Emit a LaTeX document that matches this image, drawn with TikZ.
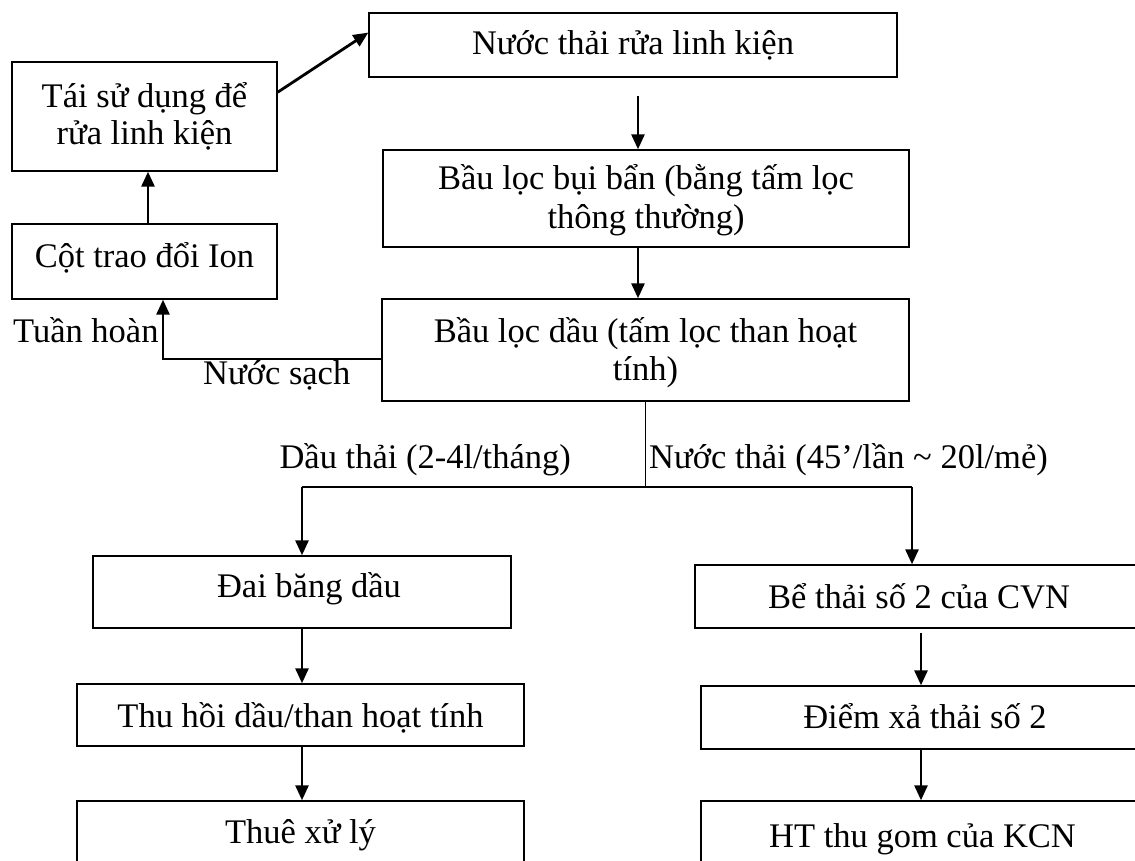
\documentclass[tikz,border=0pt]{standalone}
\usepackage{fontspec}
\setmainfont{Liberation Serif}
\usetikzlibrary{arrows.meta,calc}
\begin{document}
\begin{tikzpicture}[x=1pt,y=-1pt,
  font=\fontsize{34.5}{38}\selectfont,
  box/.style={draw,line width=1.4pt,rectangle,inner sep=0pt},
  txt/.style={anchor=base,inner sep=0pt},
  arr/.style={line width=2.8pt,-{Triangle[length=15pt,width=13pt]}},
  thick line/.style={line width=2.8pt},
  thin line/.style={line width=1.4pt}]
\path[use as bounding box] (0,0) rectangle (1135,861);
\clip (0,0) rectangle (1135,861);
\fill[white] (0,0) rectangle (1135,861);

% process boxes
\node[box,minimum width=528pt,minimum height=64pt]  (wash)    at (633,45) {};
\node[box,minimum width=265pt,minimum height=109pt] (reuse)   at (144.5,116.5) {};
\node[box,minimum width=265pt,minimum height=75pt]  (ion)     at (144.5,261.5) {};
\node[box,minimum width=526pt,minimum height=97pt]  (dust)    at (646,198.5) {};
\node[box,minimum width=527pt,minimum height=102pt] (oil)     at (645.5,350) {};
\node[box,minimum width=418pt,minimum height=72pt]  (belt)    at (302,592) {};
\node[box,minimum width=447pt,minimum height=62pt]  (recover) at (300.5,715) {};
\node[box,minimum width=447pt,minimum height=100pt] (hire)    at (300.5,851) {};
\node[box,minimum width=448pt,minimum height=63pt]  (tank)    at (919,596.5) {};
\node[box,minimum width=448pt,minimum height=63pt]  (outlet)  at (925,717.5) {};
\node[box,minimum width=443pt,minimum height=100pt] (sewer)   at (922.5,851) {};

% box texts
\node[txt] (t-wash)    at (633,55)    {Nước thải rửa linh kiện};
\node[txt] (t-reuse1)  at (144.5,108) {Tái sử dụng để};
\node[txt] (t-reuse2)  at (144.5,145) {rửa linh kiện};
\node[txt] (t-ion)     at (144.5,267) {Cột trao đổi Ion};
\node[txt] (t-dust1)   at (646,190)   {Bầu lọc bụi bẩn (bằng tấm lọc};
\node[txt] (t-dust2)   at (646,229)   {thông thường)};
\node[txt] (t-oil1)    at (645.5,342) {Bầu lọc dầu (tấm lọc than hoạt};
\node[txt] (t-oil2)    at (645.5,380) {tính)};
\node[txt] (t-belt)    at (309,597)   {Đai băng dầu};
\node[txt] (t-recover) at (300.5,727) {Thu hồi dầu/than hoạt tính};
\node[txt] (t-hire)    at (300.5,843) {Thuê xử lý};
\node[txt] (t-tank)    at (919,608)   {Bể thải số 2 của CVN};
\node[txt] (t-outlet)  at (925,728)   {Điểm xả thải số 2};
\node[txt] (t-sewer)   at (922.5,847) {HT thu gom của KCN};

% flow labels
\node[txt,anchor=base west] (l-loop)  at (13,342)  {Tuần hoàn};
\node[txt,anchor=base west] (l-clean) at (203,384) {Nước sạch};
\node[txt,anchor=base east] (l-oilw)  at (571,468) {Dầu thải (2-4l/tháng)};
\node[txt,anchor=base west] (l-water) at (649,468) {Nước thải (45’/lần \textasciitilde{} 20l/mẻ)};

% junction points
\coordinate (colC)   at (638,96);
\coordinate (colL)   at (148,0);
\coordinate (loopX)  at (163,359);
\coordinate (split)  at (645.5,487);
\coordinate (splitL) at (302,487);
\coordinate (splitR) at (912,487);
\coordinate (colR)   at (921,633);

% main line
\draw[arr] (colC) -- (dust.north -| colC);
\draw[arr] (dust.south -| colC) -- (oil.north -| colC);

% recirculation loop
\draw[arr] (oil.west |- loopX) -| (ion.south -| loopX);
\draw[arr] (ion.north -| colL) -- (reuse.south -| colL);
\draw[arr] ($(reuse.north east)!0.28!(reuse.south east)$) -- ($(wash.north west)!0.31!(wash.south west)$);

% branch to oil and waste water
\draw[thin line] (oil.south) -- (split);
\draw[thick line] (splitL) -- (splitR);
\draw[arr] (splitL) -- (belt.north -| splitL);
\draw[arr] (splitR) -- (tank.north -| splitR);
\draw[arr] (belt.south -| splitL) -- (recover.north -| splitL);
\draw[arr] (recover.south -| splitL) -- (hire.north -| splitL);
\draw[arr] (colR) -- (outlet.north -| colR);
\draw[arr] (outlet.south -| colR) -- (sewer.north -| colR);
\end{tikzpicture}
\end{document}
